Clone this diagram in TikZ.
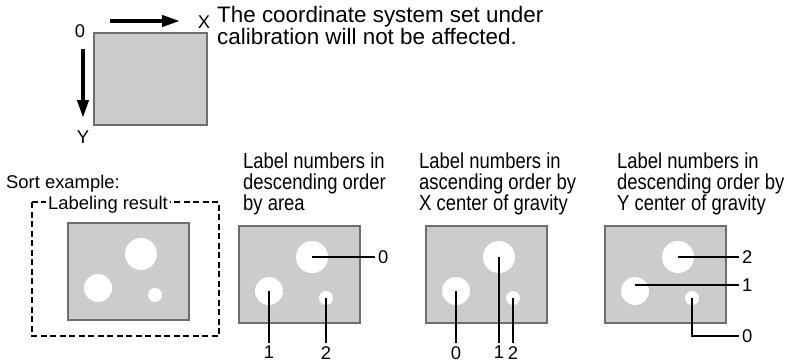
\documentclass[tikz,border=0pt]{standalone}
\usepackage{fontspec}
\setmainfont{Liberation Sans}
\newfontfamily\narrowfont[FakeStretch=0.85]{Liberation Sans}
\usetikzlibrary{arrows.meta}

\definecolor{boxgray}{HTML}{CCCCCC}
\definecolor{rimgray}{HTML}{6E6E6E}

\tikzset{
  panel/.style={draw=rimgray, line width=2pt, fill=boxgray, rectangle, anchor=north west,
    minimum width=121pt, minimum height=97pt, inner sep=0pt, outer sep=0pt},
  hole/.style={circle, fill=white, inner sep=0pt, outer sep=0pt},
  txt/.style={font=\fontsize{18.4}{21}\selectfont, inner sep=0pt},
  head/.style={font=\narrowfont\fontsize{21.7}{21}\selectfont, inner sep=0pt, anchor=north west, align=left},
  num/.style={font=\fontsize{18.4}{21}\selectfont, inner sep=3pt},
  lead/.style={line width=1.2pt},
  axis/.style={line width=4pt, -{Triangle[length=18pt, width=11pt]}}
}

\begin{document}
\begin{tikzpicture}[x=1pt, y=-1pt]
    \useasboundingbox (0,0) rectangle (788,364);

    % coordinate system
    \node [panel, minimum width=113pt, minimum height=92pt] (frame) at (94,33) {};
    \node [txt] (org) at (80,31) {0};
    \node [txt] (xlab) at (204,22) {X};
    \node [txt] (ylab) at (83,137) {Y};
    \coordinate (xs) at (110,21);
    \coordinate (xe) at (180,21);
    \coordinate (ys) at (83,49);
    \coordinate (ye) at (83,118);
    \draw [axis] (xs) -- (xe);
    \draw [axis] (ys) -- (ye);
    \node [txt, anchor=north west, align=left, font=\fontsize{22.4}{20.5}\selectfont] (note) at (217,6)
        {The coordinate system set under\\calibration will not be affected.};

    % headings
    \node [txt, anchor=base west] (sort) at (6,188) {Sort example:};
    \node [head] (headB) at (243,153) {Label numbers in\\descending order\\by area};
    \node [head] (headC) at (419,153) {Label numbers in\\ascending order by\\X center of gravity};
    \node [head] (headD) at (617,153) {Label numbers in\\descending order by\\Y center of gravity};

    % labeling result frame
    \draw [dashed, dash pattern=on 6pt off 3.5pt, line width=2pt] (32,202) rectangle (219,336);
    \node [txt, fill=white, inner sep=2pt, anchor=base west] (result) at (46,209) {Labeling result};

    % images with blobs
    \foreach \n/\x/\y in {A/68/223, B/239/226, C/426/226, D/605/226} {
        \node [panel] (\n) at (\x,\y) {};
        \node [hole, minimum size=32pt] (\n-big) at ([shift={(73,31)}]\n.north west) {};
        \node [hole, minimum size=28pt] (\n-left) at ([shift={(30,65)}]\n.north west) {};
        \node [hole, minimum size=14pt] (\n-small) at ([shift={(87,72)}]\n.north west) {};
    }

    % by area
    \node [num, anchor=west] (B0) at (375,257) {0};
    \node [num, anchor=north] (B1) at (269,343) {1};
    \node [num, anchor=north] (B2) at (326,343) {2};
    \draw [lead] (B-big.center) -- (B0.west);
    \draw [lead] (B-left.center) -- (B1.north);
    \draw [lead] (B-small.center) -- (B2.north);

    % by X
    \node [num, anchor=north] (C0) at (456,343) {0};
    \node [num, anchor=north] (C1) at (499,343) {1};
    \node [num, anchor=north] (C2) at (513,343) {2};
    \draw [lead] (C-left.center) -- (C0.north);
    \draw [lead] (C-big.center) -- (C1.north);
    \draw [lead] (C-small.center) -- (C2.north);

    % by Y
    \node [num, anchor=west] (D2) at (739,257) {2};
    \node [num, anchor=west] (D1) at (739,285) {1};
    \node [num, anchor=west] (D0) at (739,336) {0};
    \draw [lead] (D-big.center) -- (D2.west);
    \draw [lead] (D-left.center |- D1.west) -- (D1.west);
    \draw [lead] (D-small.center) |- (D0.west);
\end{tikzpicture}
\end{document}
